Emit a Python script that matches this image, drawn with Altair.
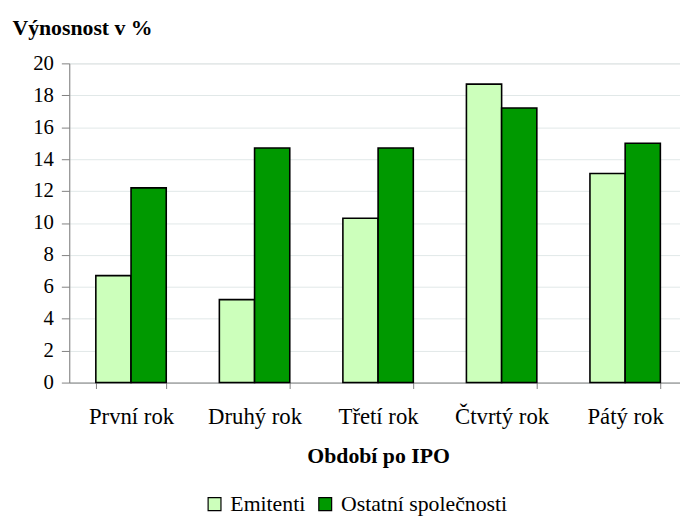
import altair as alt
import pandas as pd

categories = ["První rok", "Druhý rok", "Třetí rok", "Čtvrtý rok", "Pátý rok"]
series = ["Emitenti", "Ostatní společnosti"]
emitenti = [6.7, 5.2, 10.3, 18.7, 13.1]
ostatni = [12.2, 14.7, 14.7, 17.2, 15.0]
colors = ["#CCFFBB", "#009900"]

rows = []
for c, e, o in zip(categories, emitenti, ostatni):
    rows.append({"obdobi": c, "skupina": series[0], "hodnota": e})
    rows.append({"obdobi": c, "skupina": series[1], "hodnota": o})
df = pd.DataFrame(rows)

FONT = "Liberation Serif"

chart = alt.Chart(df).mark_bar(stroke="black", strokeWidth=1.6).encode(
    x=alt.X(
        "obdobi:N",
        sort=categories,
        scale=alt.Scale(range=[0, 625], paddingInner=0.43, paddingOuter=0.215),
        axis=alt.Axis(
            title="Období po IPO",
            titleFont=FONT, titleFontSize=22, titleFontWeight="bold", titleColor="black",
            titleY=81, titleBaseline="alphabetic",
            labelFont=FONT, labelFontSize=23, labelColor="black", labelAngle=0,
            labelBaseline="alphabetic", labelPadding=35,
            tickBand="extent", tickSize=6, tickColor="#808080",
            domainColor="#808080", grid=False,
        ),
    ),
    xOffset=alt.XOffset("skupina:N", sort=series),
    y=alt.Y(
        "hodnota:Q",
        scale=alt.Scale(domain=[0, 20], nice=False),
        axis=alt.Axis(
            values=list(range(0, 21, 2)),
            title="Výnosnost v %",
            titleAngle=0, titleAlign="left", titleBaseline="alphabetic",
            titleX=-58, titleY=-29,
            titleFont=FONT, titleFontSize=22, titleFontWeight="bold", titleColor="black",
            labelFont=FONT, labelFontSize=21, labelColor="black", labelPadding=8,
            tickSize=8, tickColor="#808080", domainColor="#808080",
            gridColor="#E1E8E8", gridWidth=1,
        ),
    ),
    color=alt.Color(
        "skupina:N",
        sort=series,
        scale=alt.Scale(domain=series, range=colors),
        legend=alt.Legend(
            title=None, orient="none", direction="horizontal",
            legendX=136, legendY=435,
            symbolType="square", symbolSize=169, symbolStrokeColor="black",
            symbolStrokeWidth=1.2, symbolOpacity=1,
            labelFont=FONT, labelFontSize=22, labelColor="black",
            labelOffset=5, columnPadding=9, labelLimit=400,
        ),
    ),
).properties(
    width=618,
    height=323,
    autosize=alt.AutoSizeParams(type="none"),
    padding={"left": 62, "top": 53, "right": 0, "bottom": 134},
).configure_view(stroke=None).configure(background="white")

chart.save("out.html", embed_options={"renderer": "svg", "actions": False})
